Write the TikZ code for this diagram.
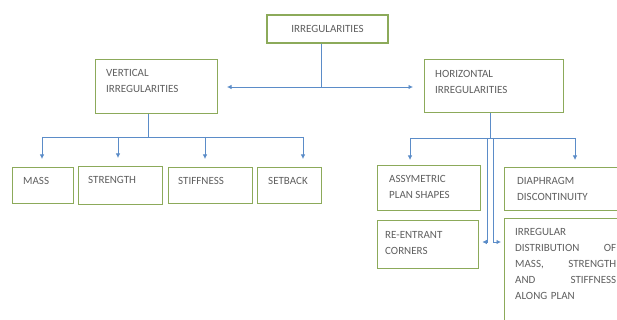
\documentclass[tikz,border=0pt]{standalone}
\usepackage{fontspec}
\setmainfont{Carlito}
\usetikzlibrary{arrows.meta}
\definecolor{boxc}{RGB}{140,170,90}
\definecolor{linec}{RGB}{91,140,200}
\definecolor{txtc}{RGB}{95,95,95}
\begin{document}
\begin{tikzpicture}[x=1pt,y=-1pt,
  box/.style={draw=boxc, line width=1.3pt, fill=white, inner sep=0pt, anchor=north west},
  txt/.style={text=txtc, font=\fontsize{11}{16}\selectfont, inner sep=0pt, anchor=north west, align=left},
  conn/.style={draw=linec, line width=0.8pt},
  tip/.style={-{Latex[length=4.5pt,width=4.5pt]}}]
\clip (0,0) rectangle (617,320);
\fill[white] (0,0) rectangle (617,320);
% boxes
\node[box, anchor=center, minimum width=121pt, minimum height=28pt, text=txtc, font=\fontsize{11}{16}\selectfont] (irr) at (327.5,29) {IRREGULARITIES};
\node[box, minimum width=122pt, minimum height=54pt] (vert) at (95,59) {};
\node[box, minimum width=139pt, minimum height=53pt] (hor) at (424,59) {};
\node[box, minimum width=61pt, minimum height=36pt] (mass) at (12,167) {};
\node[box, minimum width=84pt, minimum height=38pt] (stren) at (78,166) {};
\node[box, minimum width=84pt, minimum height=36pt] (stiff) at (168,167) {};
\node[box, minimum width=64pt, minimum height=36pt] (setb) at (257,167) {};
\node[box, minimum width=103pt, minimum height=45pt] (asym) at (377,165) {};
\node[box, minimum width=136pt, minimum height=43pt] (diaph) at (504,167) {};
\node[box, minimum width=101pt, minimum height=48pt] (reent) at (377,220) {};
\node[box, minimum width=136pt, minimum height=130pt] (irrd) at (504,218) {};
% texts
\node[txt] (vertT) at (106,69) {VERTICAL\\IRREGULARITIES};
\node[txt] (horT) at (435,70) {HORIZONTAL\\IRREGULARITIES};
\node[txt] (massT) at (23,177) {MASS};
\node[txt] (strenT) at (88,176) {STRENGTH};
\node[txt] (stiffT) at (178,177) {STIFFNESS};
\node[txt] (setbT) at (268,177) {SETBACK};
\node[txt] (asymT) at (389,175) {ASSYMETRIC\\PLAN SHAPES};
\node[txt] (diaphT) at (517,177) {DIAPHRAGM\\DISCONTINUITY};
\node[txt] (reentT) at (385,231) {RE-ENTRANT\\CORNERS};
\node[txt, text width=101pt] (irrdT) at (515,228) {IRREGULAR\\DISTRIBUTION\hfill OF\\MASS,\hfill STRENGTH\\AND\hfill STIFFNESS\\ALONG PLAN};
% junction coordinates
\coordinate (j0) at (321,87);
\coordinate (la) at (227,87);
\coordinate (ra) at (413,87);
\coordinate (v1) at (148,137);
\coordinate (h1) at (490,138);
% top connector and double arrow
\draw[conn] (irr.south -| j0) -- (j0);
\draw[conn, {Latex[length=4.5pt,width=4.5pt]}-{Latex[length=4.5pt,width=4.5pt]}] (la) -- (ra);
% vertical tree
\draw[conn] (vert.south -| v1) -- (v1);
\draw[conn] (42,137) -- (303,137);
\draw[conn, tip] (42,137) -- ([yshift=8pt]mass.north -| 42,0);
\draw[conn, tip] (118,137) -- ([yshift=8pt]stren.north -| 118,0);
\draw[conn, tip] (205,137) -- ([yshift=8pt]stiff.north -| 205,0);
\draw[conn, tip] (303,137) -- ([yshift=8pt]setb.north -| 303,0);
% horizontal tree
\draw[conn] (hor.south -| h1) -- (h1);
\draw[conn] (410,138) -- (575,138);
\draw[conn, tip] (410,138) -- ([yshift=5pt]asym.north -| 410,0);
\draw[conn, tip] (575,138) -- ([yshift=7pt]diaph.north -| 575,0);
\draw[conn, tip] (487,138) -- (487,242) -- ([xshift=3pt]reent.east |- 0,242);
\draw[conn, tip] (493,138) -- (493,242) -- ([xshift=-3pt]irrd.west |- 0,242);
\end{tikzpicture}
\end{document}
